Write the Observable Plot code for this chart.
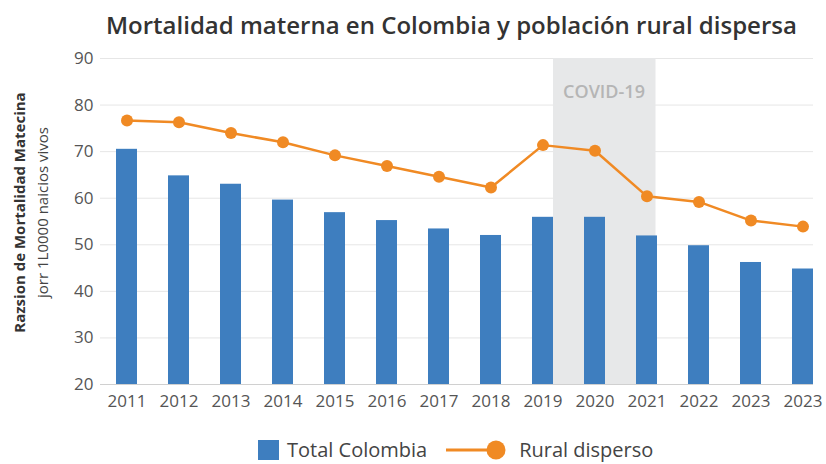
<!DOCTYPE html>
<html><head><meta charset="utf-8">
<script src="https://cdn.jsdelivr.net/npm/d3@7"></script>
<script src="https://cdn.jsdelivr.net/npm/@observablehq/plot@0.6"></script>
<style>
body{margin:0;background:#fff;font-family:"Open Sans",sans-serif;}
#wrap{width:826px;height:464px;position:relative;overflow:hidden;background:#fff}
#title{position:absolute;left:106px;top:9px;font-size:24px;font-weight:600;color:#333;white-space:nowrap;line-height:32px}
#chart{position:absolute;left:0;top:45px}
#legend{position:absolute;top:436px;left:258px;height:27px;line-height:27px;display:flex;align-items:center;font-size:20px;color:#444;white-space:nowrap}
.sw{width:21px;height:20px;background:#3e7ebf;margin-right:8px}
.ln{margin-left:19px;margin-right:13px}
</style></head>
<body><div id="wrap"><div id="title">Mortalidad materna en Colombia y población rural dispersa</div><div id="chart"></div>
<div id="legend"><div class="sw"></div><span>Total Colombia</span>
<svg class="ln" width="60" height="22"><line x1="0" y1="11" x2="44" y2="11" stroke="#f08a24" stroke-width="3"/><circle cx="50" cy="11" r="9.5" fill="#f08a24"/></svg><span>Rural disperso</span></div></div>
<script>
const labels = ["2011","2012","2013","2014","2015","2016","2017","2018","2019","2020","2021","2022","2023","2023"];
const total = [70.5, 64.8, 63.0, 59.6, 56.9, 55.2, 53.4, 52.0, 55.9, 55.9, 51.9, 49.8, 46.2, 44.8];
const rural = [76.7, 76.3, 74.0, 72.0, 69.2, 66.9, 64.6, 62.3, 71.4, 70.2, 60.4, 59.2, 55.2, 53.9];
const yTicks = [20, 30, 40, 50, 60, 70, 80, 90];
const covid = {label: "COVID-19", from: "2019", mid: "2020", to: "2021"};
const yTitle1 = "Razsion de Mortalidad Matecina";
const yTitle2 = "jorr 1L0000 naicios vivos";

const idx = labels.map((d, i) => i);
const rows = idx.map(i => ({i, total: total[i], rural: rural[i]}));
const cFrom = labels.indexOf(covid.from), cTo = labels.indexOf(covid.to), cMid = labels.indexOf(covid.mid);

const chart = Plot.plot({
  width: 826, height: 375,
  marginLeft: 100, marginRight: 13, marginTop: 13, marginBottom: 36,
  style: {fontFamily: "Open Sans", fontSize: "17px", color: "#555", background: "transparent"},
  x: {type: "band", domain: idx, paddingInner: 0.6, paddingOuter: 0.13, align: 1, tickFormat: i => labels[i], tickSize: 0, tickPadding: 10, label: null},
  y: {domain: [20, 90], ticks: yTicks, tickSize: 0, tickPadding: 7, label: null},
  marks: [
    Plot.ruleY(yTicks, {stroke: "#e6e6e6", strokeWidth: 1}),
    Plot.rect([covid], {x1: () => cFrom, x2: () => cTo, y1: yTicks[0], y2: yTicks[yTicks.length-1], insetLeft: 21, insetRight: 1.5, fill: "#e7e8e9"}),
    Plot.text([covid], {x: () => cMid, frameAnchor: "top", dy: 27, dx: 9, text: "label", fill: "#b5b5b5", fontSize: 18, fontWeight: 600}),
    Plot.ruleY([yTicks[0]], {stroke: "#d0d0d0", strokeWidth: 1.2}),
    Plot.barY(rows, {x: "i", y1: yTicks[0], y2: "total", fill: "#3e7ebf"}),
    Plot.lineY(rows, {x: "i", y: "rural", stroke: "#f08a24", strokeWidth: 2.5}),
    Plot.dot(rows, {x: "i", y: "rural", r: 6, fill: "#f08a24"}),
    Plot.text([yTitle1], {text: d => d, frameAnchor: "left", textAnchor: "middle", rotate: -90, dx: -80, dy: -9, fontSize: 15, fontWeight: "bold", fill: "#333"}),
    Plot.text([yTitle2], {text: d => d, frameAnchor: "left", textAnchor: "middle", rotate: -90, dx: -57, dy: -9, fontSize: 15, fill: "#444"})
  ]
});
document.getElementById("chart").appendChild(chart);
</script></body></html>
